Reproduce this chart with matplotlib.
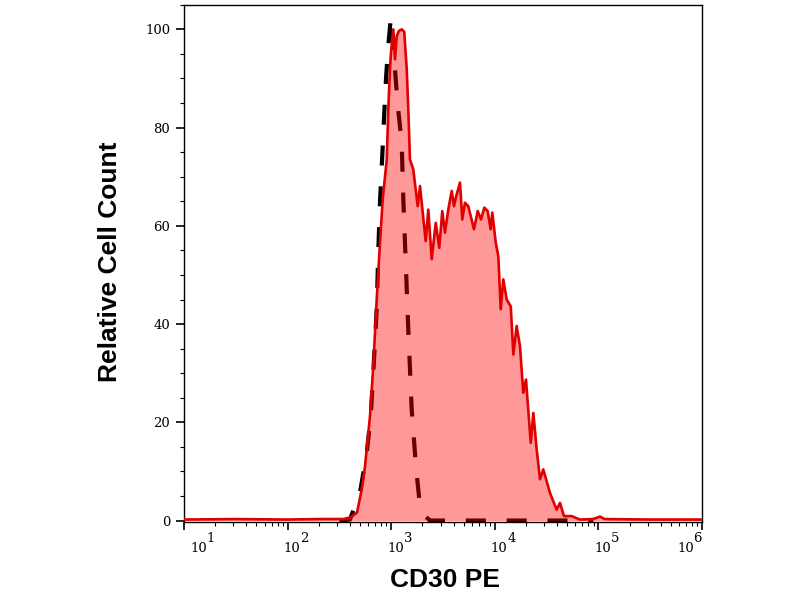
import numpy as np
import matplotlib
matplotlib.use('Agg')
from matplotlib import pyplot as plt
from matplotlib.ticker import MultipleLocator, LogLocator, NullFormatter

# CD30 PE stained sample, positions in log10 units of fluorescence
stained_log = [1.0, 1.5, 2.0, 2.3, 2.535, 2.602, 2.670, 2.715, 2.747, 2.795, 2.827,
               2.860, 2.892, 2.918, 2.957, 2.972, 2.988, 2.998, 3.020, 3.037, 3.053,
               3.075, 3.101, 3.126, 3.150, 3.165, 3.181, 3.213, 3.256, 3.278, 3.333,
               3.358, 3.391, 3.430, 3.464, 3.493, 3.519, 3.551, 3.584, 3.606, 3.623,
               3.664, 3.686, 3.712, 3.744, 3.799, 3.835, 3.867, 3.899, 3.931, 3.960,
               3.976, 4.009, 4.034, 4.057, 4.082, 4.115, 4.154, 4.179, 4.211, 4.243,
               4.275, 4.301, 4.347, 4.372, 4.404, 4.436, 4.468, 4.533, 4.597, 4.629,
               4.668, 4.742, 4.822, 4.95, 5.015, 5.06, 5.5, 6.0]
stained_count = [0.2, 0.3, 0.2, 0.3, 0.3, 0.6, 1.6, 6.3, 11.0, 21.2, 31.4,
                 45.0, 56.6, 65.4, 73.5, 83.7, 91.9, 95.3, 100.0, 93.9, 98.6,
                 99.7, 100.0, 99.5, 91.9, 83.7, 73.5, 71.5, 64.0, 68.1, 56.9,
                 63.3, 53.2, 60.6, 55.5, 63.0, 58.6, 63.3, 67.1, 64.0, 65.7,
                 68.8, 61.3, 64.7, 64.0, 59.3, 63.0, 61.3, 63.7, 63.0, 59.3,
                 62.7, 56.6, 53.8, 43.0, 49.1, 45.0, 43.6, 33.8, 39.6, 35.5,
                 26.0, 28.7, 15.8, 21.9, 14.5, 8.4, 10.4, 5.6, 2.2, 3.6,
                 0.9, 0.9, 0.2, 0.3, 0.8, 0.3, 0.2, 0.2]

# unstained / isotype control
control_log = [2.5, 2.602, 2.699, 2.764, 2.802, 2.827, 2.860, 2.876, 2.892, 2.911,
               2.931, 2.950, 2.969, 2.998, 3.061, 3.101, 3.117, 3.165, 3.198, 3.239,
               3.271, 3.326, 3.375, 4.95]
control_count = [0.0, 0.2, 5.7, 13.8, 21.2, 30.1, 43.0, 55.2, 65.0, 73.0,
                 82.0, 90.0, 96.0, 102.7, 85.0, 77.0, 65.4, 38.9, 22.6, 11.0,
                 4.3, 0.9, 0.0, 0.0]

y_ticks = [0, 20, 40, 60, 80, 100]
x_exponents = [1, 2, 3, 4, 5, 6]


def main():
    xs = 10 ** np.array(stained_log)
    xc = 10 ** np.array(control_log)

    fig = plt.figure(figsize=(8, 6), dpi=100)
    ax = fig.add_axes([0.23, 0.13, 0.6475, 0.862])

    # control sits under the semi transparent fill, like the original
    ax.plot(xc, control_count, color='black', lw=3, dashes=(4.8, 5.0), zorder=1)
    ax.fill_between(xs, stained_count, 0, color='red', alpha=0.4, lw=0, zorder=2)
    ax.plot(xs, stained_count, color='#e00000', lw=1.9, zorder=3)

    ax.set_xscale('log')
    ax.set_xlim(10, 1e6)
    ax.set_ylim(-0.3, 105)
    ax.set_yticks(y_ticks)
    ax.yaxis.set_minor_locator(MultipleLocator(5))
    ax.xaxis.set_major_locator(LogLocator(base=10, numticks=10))
    ax.xaxis.set_minor_locator(LogLocator(base=10, subs=np.arange(2, 10), numticks=50))
    ax.xaxis.set_major_formatter(NullFormatter())
    ax.xaxis.set_minor_formatter(NullFormatter())

    ax.tick_params(which='major', direction='out', length=6, width=1.2, pad=4)
    ax.tick_params(which='minor', direction='out', length=3, width=0.8)
    for lab in ax.get_yticklabels():
        lab.set_family('DejaVu Serif')
        lab.set_fontsize(9.5)
    for s in ax.spines.values():
        s.set_linewidth(1.0)

    # x tick labels: "10" with a full size exponent, edge labels kept inside
    for e in x_exponents:
        if e == x_exponents[0]:
            dx = 6
        elif e == x_exponents[-1]:
            dx = -25
        else:
            dx = -4
        ax.annotate('10', xy=(10.0 ** e, 0), xycoords=('data', 'axes fraction'),
                    xytext=(dx, -30), textcoords='offset pixels', ha='left',
                    va='baseline', fontsize=9.5, family='DejaVu Serif')
        ax.annotate(str(e), xy=(10.0 ** e, 0), xycoords=('data', 'axes fraction'),
                    xytext=(dx + 16.5, -20), textcoords='offset pixels', ha='left',
                    va='baseline', fontsize=9.5, family='DejaVu Serif')

    fig.text(110 / 800, 1 - 262 / 600, 'Relative Cell Count', rotation=90,
             ha='center', va='center', fontsize=19, fontweight='bold',
             family='Liberation Sans')
    fig.text(445 / 800, 1 - 580 / 600, 'CD30 PE', ha='center', va='center',
             fontsize=19, fontweight='bold', family='Liberation Sans')

    fig.savefig('out.png', dpi=100)


if __name__ == '__main__':
    main()
